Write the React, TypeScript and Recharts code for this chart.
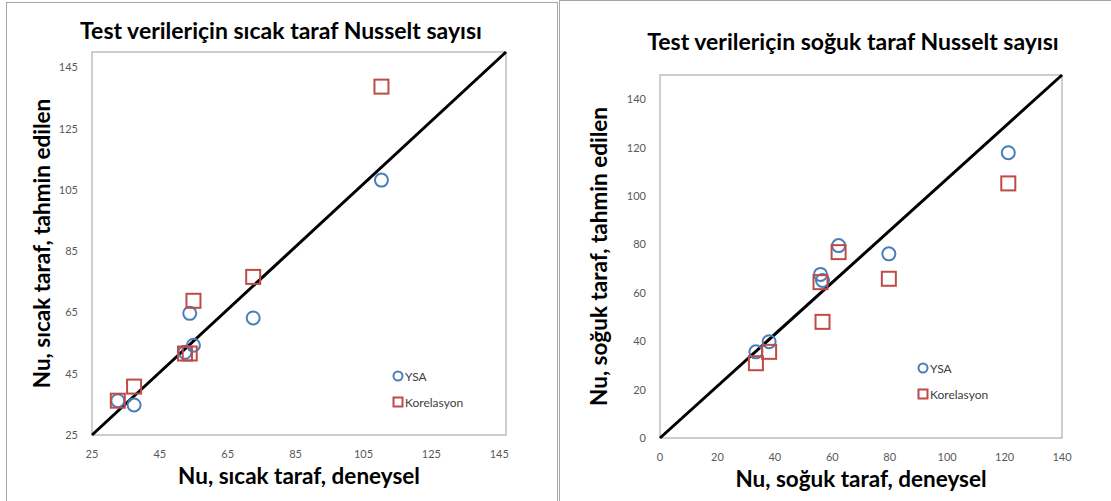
import { ScatterChart, Scatter, XAxis, YAxis, ReferenceLine, ReferenceArea, Legend } from 'recharts'

const FONT = 'Lato, "Open Sans", sans-serif'
const BLUE = '#4a7ebb'
const RED = '#be4b48'

// sıcak taraf (hot side)
const hotX = [32.6, 37.4, 52.4, 53.8, 54.9, 72.5, 110.3]
const hotYsa = [36.2, 34.8, 52.0, 64.7, 54.3, 63.2, 108.2]
const hotKor = [36.2, 40.8, 51.6, 51.6, 68.8, 76.6, 138.7]
const hotTicks = [25, 45, 65, 85, 105, 125, 145]

// soğuk taraf (cold side)
const coldX = [33.4, 38.0, 55.9, 56.6, 62.2, 79.7, 121.3]
const coldYsa = [35.6, 39.8, 67.6, 65.1, 79.5, 76.1, 117.9]
const coldKor = [30.9, 35.6, 64.4, 48.0, 76.8, 65.8, 105.2]
const coldXTicks = [0, 20, 40, 60, 80, 100, 120, 140]
const coldYTicks = [0, 20, 40, 60, 80, 100, 120, 140]

const Ring = (p: any) => (
	<circle cx={p.cx} cy={p.cy} r={6.5} fill="none" stroke={BLUE} strokeWidth={2} />
)

const Box = (p: any) => (
	<rect x={p.cx - 7} y={p.cy - 7} width={14} height={14} fill="none" stroke={RED} strokeWidth={2} />
)

function LegendBox({ payload }: any) {
	// circles (YSA) first, like the original
	const items = [...(payload || [])].sort((a: any, b: any) => (a.type === 'circle' ? -1 : 0) - (b.type === 'circle' ? -1 : 0))
	return (
		<div style={{ fontFamily: FONT, fontSize: 12, color: '#404040' }}>
			{items.map((e: any) => (
				<div key={e.value} style={{ display: 'flex', alignItems: 'center', height: 26 }}>
					<svg width={12} height={12}>
						{e.type === 'circle' ? (
							<circle cx={6} cy={6} r={4.5} fill="none" stroke={BLUE} strokeWidth={2} />
						) : (
							<rect x={1.5} y={1.5} width={9} height={9} fill="none" stroke={RED} strokeWidth={2} />
						)}
					</svg>
					<span style={{ marginLeft: 1 }}>{e.value}</span>
				</div>
			))}
		</div>
	)
}

type PanelProps = {
	left: number
	width: number
	x0: number
	x1: number
	y0: number
	y1: number
	xs: number[]
	ysa: number[]
	kor: number[]
	xDomain: [number, number]
	yDomain: [number, number]
	xTicks: number[]
	yTicks: number[]
	title: string
	titleX: number
	titleY: number
	xLabel: string
	yLabel: string
	yLabelX: number
	legendX: number
	legendY: number
}

function Panel(p: PanelProps) {
	const ysaData = p.xs.map((x, i) => ({ x, y: p.ysa[i] }))
	const korData = p.xs.map((x, i) => ({ x, y: p.kor[i] }))
	const tick = { fontFamily: FONT, fontSize: 11, fill: '#595959' }
	return (
		<div style={{ position: 'absolute', left: p.left, top: 0, width: p.width, height: 501 }}>
			<div
				style={{
					position: 'absolute',
					left: p.titleX - 300,
					top: p.titleY - 15,
					width: 600,
					textAlign: 'center',
					fontFamily: FONT,
					fontWeight: 700,
					fontSize: 23,
					lineHeight: '28px',
					color: '#000',
				}}>
				{p.title}
			</div>
			<ScatterChart
				width={p.width}
				height={501}
				margin={{ top: p.y0, left: p.x0 - 40, right: p.width - p.x1, bottom: 501 - p.y1 - 30 }}>
				<XAxis
					type="number"
					dataKey="x"
					domain={p.xDomain}
					ticks={p.xTicks}
					allowDataOverflow
					height={30}
					axisLine={false}
					tickLine={false}
					tickSize={0}
					tickMargin={15}
					tick={tick}
					label={{
						value: p.xLabel,
						position: 'bottom',
						offset: 3,
						style: { fontFamily: FONT, fontWeight: 700, fontSize: 22.5, fill: '#000' },
					}}
				/>
				<YAxis
					type="number"
					dataKey="y"
					domain={p.yDomain}
					ticks={p.yTicks}
					allowDataOverflow
					width={40}
					axisLine={false}
					tickLine={false}
					tickSize={0}
					tickMargin={14}
					tick={tick}
					label={{
						content: (lp: any) => {
							const vb = lp.viewBox || {}
							const cy = vb.y + vb.height / 2
							return (
								<text
									x={p.yLabelX}
									y={cy}
									transform={`rotate(-90 ${p.yLabelX} ${cy})`}
									textAnchor="middle"
									dominantBaseline="central"
									style={{ fontFamily: FONT, fontWeight: 700, fontSize: 22.5, fill: '#000' }}>
									{p.yLabel}
								</text>
							)
						},
					}}
				/>
				<ReferenceArea
					x1={p.xDomain[0]}
					x2={p.xDomain[1]}
					y1={p.yDomain[0]}
					y2={p.yDomain[1]}
					fill="none"
					stroke="#bfbfbf"
					strokeWidth={1.5}
				/>
				<ReferenceLine
					segment={[
						{ x: p.xDomain[0], y: p.yDomain[0] },
						{ x: p.xDomain[1], y: p.yDomain[1] },
					]}
					stroke="#000"
					strokeWidth={3}
				/>
				<Scatter name="YSA" data={ysaData} fill={BLUE} legendType="circle" shape={Ring} isAnimationActive={false} />
				<Scatter name="Korelasyon" data={korData} fill={RED} legendType="square" shape={Box} isAnimationActive={false} />
				<Legend
					layout="vertical"
					align="center"
					verticalAlign="middle"
					content={<LegendBox />}
					wrapperStyle={{ left: p.legendX, top: p.legendY, width: 'auto', height: 'auto' }}
				/>
			</ScatterChart>
		</div>
	)
}

export default function App() {
	return (
		<div style={{ position: 'absolute', left: 0, top: 0, width: 1111, height: 501, overflow: 'hidden', background: '#fff' }}>
			<div style={{ position: 'absolute', left: 6, top: 2, width: 550, height: 520, border: '1px solid #a6a6a6' }} />
			<div style={{ position: 'absolute', left: 559, top: 0, width: 560, height: 520, border: '1px solid #a6a6a6' }} />
			<Panel
				left={0}
				width={557}
				x0={92}
				x1={506}
				y0={52}
				y1={435}
				xs={hotX}
				ysa={hotYsa}
				kor={hotKor}
				xDomain={[25, 147]}
				yDomain={[25, 150]}
				xTicks={hotTicks}
				yTicks={hotTicks}
				title="Test verileriçin sıcak taraf Nusselt sayısı"
				titleX={281}
				titleY={31}
				xLabel="Nu, sıcak taraf, deneysel"
				yLabel="Nu, sıcak taraf, tahmin edilen"
				yLabelX={41}
				legendX={392}
				legendY={363}
			/>
			<Panel
				left={559}
				width={552}
				x0={101}
				x1={503}
				y0={75}
				y1={438}
				xs={coldX}
				ysa={coldYsa}
				kor={coldKor}
				xDomain={[0, 140]}
				yDomain={[0, 150]}
				xTicks={coldXTicks}
				yTicks={coldYTicks}
				title="Test verileriçin soğuk taraf Nusselt sayısı"
				titleX={294}
				titleY={42}
				xLabel="Nu, soğuk taraf, deneysel"
				yLabel="Nu, soğuk taraf, tahmin edilen"
				yLabelX={39}
				legendX={358}
				legendY={355}
			/>
		</div>
	)
}
